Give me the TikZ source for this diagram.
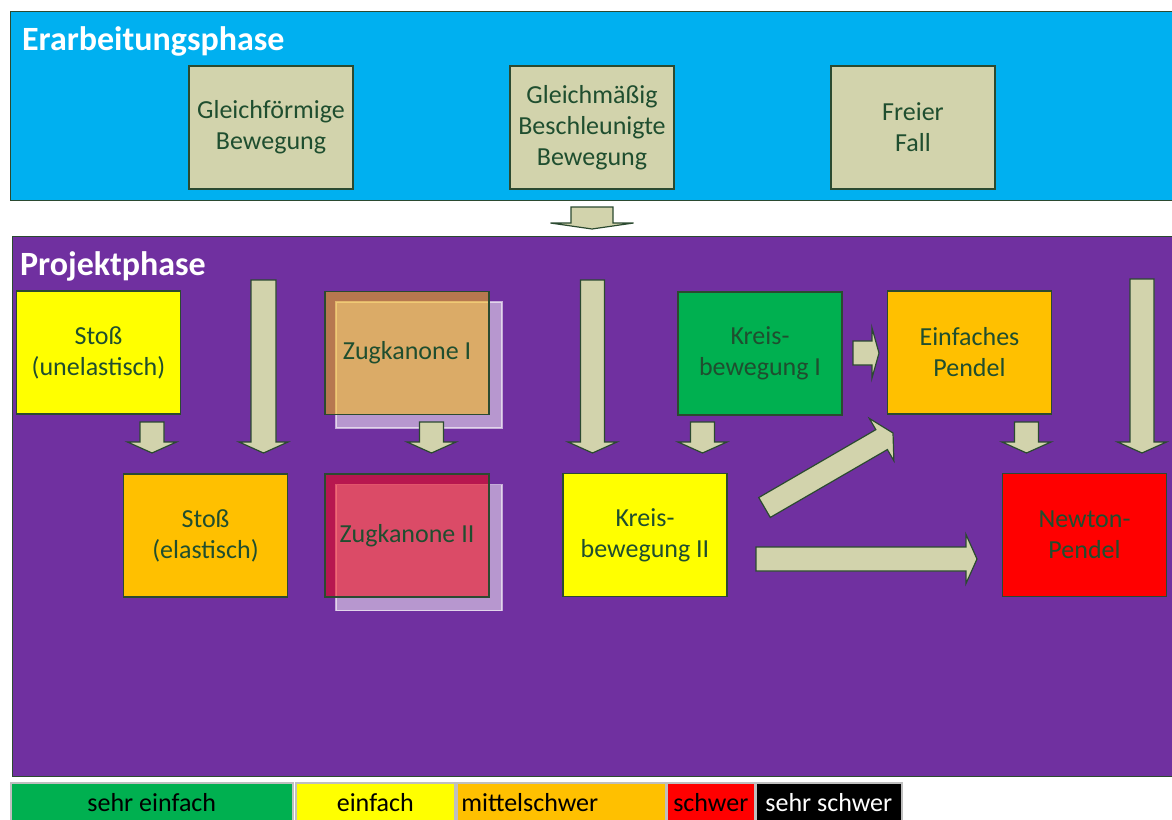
\documentclass[tikz,border=0pt]{standalone}
\usepackage{fontspec}
\setmainfont{Carlito}
\usepackage{tikz}
\usetikzlibrary{calc, positioning}
\definecolor{skyblue}{HTML}{00B0F0}
\definecolor{phasepurple}{HTML}{7030A0}
\definecolor{tanfill}{HTML}{D2D3AC}
\definecolor{edgegreen}{HTML}{2B4A30}
\definecolor{textgreen}{HTML}{1F4E2F}
\definecolor{lvlgreen}{HTML}{00B050}
\definecolor{lvlyellow}{HTML}{FFFF00}
\definecolor{lvlorange}{HTML}{FFC000}
\definecolor{lvlred}{HTML}{FF0000}

% block arrow: from, to, shaft width, head width, head length
\newcommand{\blockarrow}[5]{%
  \draw[blk] let \p1=(#1), \p2=(#2),
      \n1={atan2(\y2-\y1,\x2-\x1)},
      \n2={veclen(\x2-\x1,\y2-\y1)-#5}
    in ($(\p1)+(\n1+90:#3/2)$)
    -- ($(\p1)+(\n1:\n2)+(\n1+90:#3/2)$)
    -- ($(\p1)+(\n1:\n2)+(\n1+90:#4/2)$)
    -- (\p2)
    -- ($(\p1)+(\n1:\n2)+(\n1-90:#4/2)$)
    -- ($(\p1)+(\n1:\n2)+(\n1-90:#3/2)$)
    -- ($(\p1)+(\n1-90:#3/2)$) -- cycle;}

\begin{document}
\begin{tikzpicture}[
    x=0.5pt, y=-0.5pt,
    font=\fontsize{13}{15.5}\selectfont,
    phase/.style={draw=edgegreen, line width=0.6pt, anchor=north west,
        inner sep=0pt, minimum width=582pt},
    phasetitle/.style={anchor=west, text=white,
        font=\fontsize{17}{19}\selectfont\bfseries},
    topic/.style={draw=edgegreen, line width=0.6pt, minimum width=82pt,
        minimum height=61.5pt, align=center, text=textgreen, inner sep=2pt},
    ghost/.style={draw=white, draw opacity=0.6, line width=0.6pt,
        fill=white, fill opacity=0.5, minimum width=83pt, minimum height=63pt},
    blk/.style={draw=edgegreen, fill=tanfill, line width=0.6pt, line join=miter},
    level/.style={draw=gray!50, line width=0.8pt, minimum height=22pt,
        anchor=north west, text height=9pt, text depth=2pt, inner sep=2pt}
]
\useasboundingbox (0,0) rectangle (1172,819);
\clip (0,0) rectangle (1172,819);

% Erarbeitungsphase
\node[phase, fill=skyblue, minimum height=94.5pt] (erarb) at (10,11) {};
\node[phasetitle] (erarbtitle) at (15,41) {Erarbeitungsphase};
\node[topic, fill=tanfill] (gleichf) at (271,127.5) {Gleichförmige\\Bewegung};
\node[topic, fill=tanfill] (gleichb) at (592,127.5) {Gleichmäßig\\Beschleunigte\\Bewegung};
\node[topic, fill=tanfill] (freifall) at (913,127.5) {Freier\\Fall};

% Projektphase
\node[phase, fill=phasepurple, minimum height=270pt] (projekt) at (12,236) {};
\node[phasetitle] (projekttitle) at (13,266) {Projektphase};

\node[topic, fill=lvlyellow] (stossun) at (98.5,352.5) {Stoß\\(unelastisch)};
\node[topic, fill=lvlorange] (stossel) at (205.5,535.5) {Stoß\\(elastisch)};

\node[ghost] (zugeinsback) at (419,365) {};
\node[topic, fill=lvlorange, fill opacity=0.5, text opacity=1] (zugeins) at (407,353) {Zugkanone I};
\node[ghost] (zugzweiback) at (419,547.5) {};
\node[topic, fill=lvlred, fill opacity=0.5, text opacity=1] (zugzwei) at (407,535.5) {Zugkanone II};

\node[topic, fill=lvlgreen] (kreiseins) at (760,353.5) {Kreis-\\bewegung I};
\node[topic, fill=lvlyellow] (kreiszwei) at (645,535) {Kreis-\\bewegung II};
\node[topic, fill=lvlorange] (pendel) at (969.5,352.5) {Einfaches\\Pendel};
\node[topic, fill=lvlred] (newton) at (1084.5,535) {Newton-\\Pendel};

% arrow ends
\coordinate (phasefrom) at (592,207);
\coordinate (phaseto) at (592,229);
\coordinate (longafrom) at (263.5,280);
\coordinate (longato) at (263.5,453);
\coordinate (stossfrom) at (152,422);
\coordinate (stossto) at (152,453);
\coordinate (zugfrom) at (431.5,422);
\coordinate (zugto) at (431.5,453);
\coordinate (longbfrom) at (592.5,280);
\coordinate (longbto) at (592.5,453);
\coordinate (kreisfrom) at (702.5,422);
\coordinate (kreisto) at (702.5,453);
\coordinate (kreisrfrom) at (853,353);
\coordinate (kreisrto) at (879,353);
\coordinate (diagfrom) at (764.5,507.5);
\coordinate (diagto) at (893,433);
\coordinate (newtonfrom) at (756,559);
\coordinate (newtonto) at (977,559);
\coordinate (pendelfrom) at (1026.5,422);
\coordinate (pendelto) at (1026.5,453);
\coordinate (longcfrom) at (1142,279);
\coordinate (longcto) at (1142,453);

\blockarrow{phasefrom}{phaseto}{21pt}{41.5pt}{3pt}
\blockarrow{longafrom}{longato}{12.5pt}{24.5pt}{5.5pt}
\blockarrow{stossfrom}{stossto}{12pt}{24.5pt}{5.5pt}
\blockarrow{zugfrom}{zugto}{12pt}{24.5pt}{5.5pt}
\blockarrow{longbfrom}{longbto}{12pt}{24.5pt}{5.5pt}
\blockarrow{kreisfrom}{kreisto}{12pt}{24.5pt}{5.5pt}
\blockarrow{kreisrfrom}{kreisrto}{12pt}{25pt}{3.5pt}
\blockarrow{diagfrom}{diagto}{11.5pt}{24.5pt}{6.5pt}
\blockarrow{newtonfrom}{newtonto}{12pt}{24.5pt}{5.5pt}
\blockarrow{pendelfrom}{pendelto}{12pt}{24.5pt}{5.5pt}
\blockarrow{longcfrom}{longcto}{12pt}{24.5pt}{5.5pt}

% Legend
\node[level, fill=lvlgreen, minimum width=141pt] (sehreinfach) at (10,782) {sehr einfach};
\node[level, fill=lvlyellow, minimum width=79.5pt] (einfach) at (295,782) {einfach};
\node[level, fill=lvlorange, minimum width=104.5pt, text width=100pt, align=left] (mittel) at (456,782) {mittelschwer};
\node[level, fill=lvlred, minimum width=44pt] (schwer) at (666,782) {schwer};
\node[level, fill=black, text=white, minimum width=73pt] (sehrschwer) at (755,782) {sehr schwer};

\end{tikzpicture}
\end{document}
